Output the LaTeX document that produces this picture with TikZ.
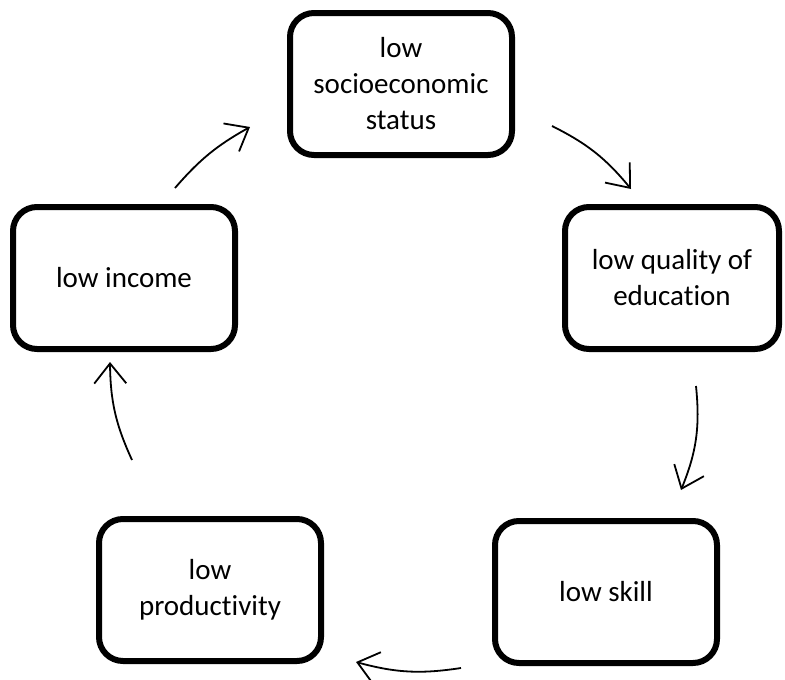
\documentclass[tikz,border=0pt]{standalone}
\usepackage{fontspec}
\setmainfont{Carlito}[RawFeature=-liga]
\usetikzlibrary{arrows.meta}
\begin{document}
\begin{tikzpicture}[x=1pt,y=-1pt,
  cyclebox/.style={draw=black, line width=6pt, rounded corners=24pt,
    minimum width=222pt, minimum height=142pt, align=center,
    font=\fontsize{29}{36}\selectfont, inner sep=0pt},
  flow/.style={line width=1.8pt, -{Straight Barb[length=20pt,width=32pt,line width=1.8pt]}}]
\useasboundingbox (0,0) rectangle (785,680);
\node[cyclebox] (ses) at (401,84) {low\\socioeconomic\\status};
\node[cyclebox, minimum width=214pt] (edu) at (672,278) {low quality of\\education};
\node[cyclebox] (skill) at (606,592) {low skill};
\node[cyclebox] (prod) at (210,590) {low\\productivity};
\node[cyclebox] (inc) at (124,278) {low income};
\coordinate (a1) at (552,126); \coordinate (b1) at (631,189);
\coordinate (a2) at (696,386); \coordinate (b2) at (681,490);
\coordinate (a3) at (461,668); \coordinate (b3) at (356,662);
\coordinate (a4) at (132,460); \coordinate (b4) at (110,362);
\coordinate (a5) at (175,188); \coordinate (b5) at (250,127);
\draw[flow] (a1) to[bend left=12] (b1);
\draw[flow] (a2) to[bend left=14] (b2);
\draw[flow] (a3) to[bend left=12] (b3);
\draw[flow] (a4) to[bend left=12] (b4);
\draw[flow] (a5) to[bend left=10] (b5);
\end{tikzpicture}
\end{document}
